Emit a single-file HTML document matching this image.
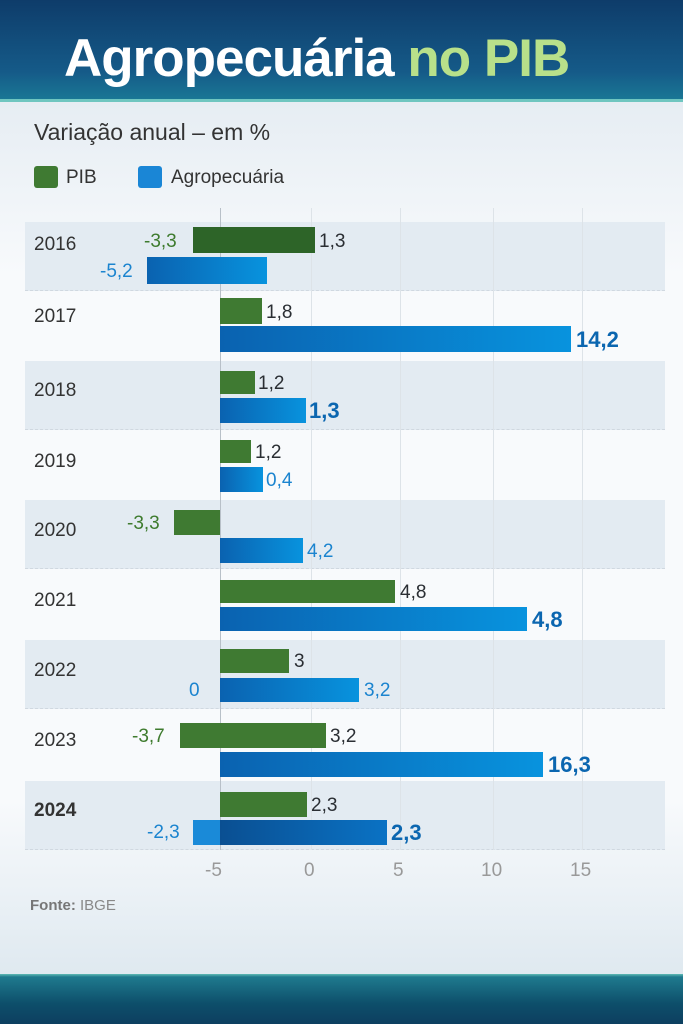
<!DOCTYPE html>
<html><head><meta charset="utf-8"><style>
*{margin:0;padding:0;box-sizing:border-box}
body{width:683px;height:1024px;overflow:hidden;font-family:"Liberation Sans","DejaVu Sans",sans-serif;background:#f2f6f9;position:relative}
.hdr{position:absolute;left:0;top:0;width:683px;height:102px;background:linear-gradient(180deg,#0e3c6a 0%,#155a88 70%,#1a7a96 100%)}
.hdr:after{content:"";position:absolute;left:0;right:0;bottom:0;height:3px;background:#6fc6c0}
.title{position:absolute;top:28px;left:64px;font-size:53px;font-weight:bold;color:#fff;letter-spacing:-1px;white-space:nowrap}
.title span{color:#b8e08a}
.main{position:absolute;left:0;top:102px;width:683px;height:872px;background:linear-gradient(180deg,#e6edf3 0%,#f8fafc 20%,#f8fafc 80%,#dfe9f0 100%)}
.ftr{position:absolute;left:0;top:974px;width:683px;height:50px;background:linear-gradient(180deg,#5fbab5 0,#1f7a8e 6%,#0d4e6a 60%,#0d3f60 100%)}
.t{position:absolute;white-space:nowrap;font-size:19px;line-height:1}
.band{position:absolute;left:25px;width:640px;height:69px;background:#e3ebf2;border-bottom:1px dashed #d0d8e0}
.grid{position:absolute;top:208px;height:642px;width:1px;background:#dde3e8}
.b{position:absolute}
.g{background:#3f7a32}
.gd{background:#2d6428}
.bl{background:linear-gradient(90deg,#0a62b0,#0893de)}
.yr{position:absolute;left:34px;font-size:19px;color:#333}
.gr{color:#3e7b2e}.dk{color:#2a2e33}.bu{color:#1b84cf}.bb{color:#0b66b0;font-weight:bold;font-size:22px}
</style></head><body>
<div class="hdr"><div class="title">Agropecuária <span>no PIB</span></div></div>
<div class="main"></div>
<div class="ftr"></div>
<div class="t" style="left:34px;top:121px;font-size:23px;color:#333">Variação anual – em %</div>
<div class="b g" style="left:34px;top:166px;width:24px;height:22px;border-radius:3px"></div>
<div class="t" style="left:66px;top:168px;font-size:19px;color:#333">PIB</div>
<div class="b" style="left:138px;top:166px;width:24px;height:22px;border-radius:3px;background:#1a86d6"></div>
<div class="t" style="left:171px;top:168px;font-size:19px;color:#333">Agropecuária</div>

<div class="band" style="top:222px"></div>
<div class="band" style="top:361px"></div>
<div class="band" style="top:500px"></div>
<div class="band" style="top:640px"></div>
<div class="band" style="top:781px"></div>
<div class="grid" style="left:220px;background:#b8c0c8"></div>
<div class="grid" style="left:311px"></div>
<div class="grid" style="left:400px"></div>
<div class="grid" style="left:493px"></div>
<div class="grid" style="left:582px"></div>

<div class="yr" style="top:234px">2016</div>
<div class="yr" style="top:306px">2017</div>
<div class="yr" style="top:380px">2018</div>
<div class="yr" style="top:451px">2019</div>
<div class="yr" style="top:520px">2020</div>
<div class="yr" style="top:590px">2021</div>
<div class="yr" style="top:660px">2022</div>
<div class="yr" style="top:730px">2023</div>
<div class="yr" style="top:800px;font-weight:bold">2024</div>

<div class="b gd" style="left:193px;top:227px;width:122px;height:26px"></div>
<div class="t gr" style="left:144px;top:232px">-3,3</div><div class="t dk" style="left:319px;top:232px">1,3</div>
<div class="b bl" style="left:147px;top:257px;width:120px;height:27px"></div>
<div class="t bu" style="left:100px;top:262px">-5,2</div>

<div class="b g" style="left:220px;top:298px;width:42px;height:26px"></div>
<div class="t dk" style="left:266px;top:303px">1,8</div>
<div class="b bl" style="left:220px;top:326px;width:351px;height:26px"></div>
<div class="t bb" style="left:576px;top:329px">14,2</div>

<div class="b g" style="left:220px;top:371px;width:35px;height:23px"></div>
<div class="t dk" style="left:258px;top:374px">1,2</div>
<div class="b bl" style="left:220px;top:398px;width:86px;height:25px"></div>
<div class="t bb" style="left:309px;top:400px">1,3</div>

<div class="b g" style="left:220px;top:440px;width:31px;height:23px"></div>
<div class="t dk" style="left:255px;top:443px">1,2</div>
<div class="b bl" style="left:220px;top:467px;width:43px;height:25px"></div>
<div class="t bu" style="left:266px;top:471px">0,4</div>

<div class="b g" style="left:174px;top:510px;width:46px;height:25px"></div>
<div class="t gr" style="left:127px;top:514px">-3,3</div>
<div class="b bl" style="left:220px;top:538px;width:83px;height:25px"></div>
<div class="t bu" style="left:307px;top:542px">4,2</div>

<div class="b g" style="left:220px;top:580px;width:175px;height:23px"></div>
<div class="t dk" style="left:400px;top:583px">4,8</div>
<div class="b bl" style="left:220px;top:607px;width:307px;height:24px"></div>
<div class="t bb" style="left:532px;top:609px">4,8</div>

<div class="b g" style="left:220px;top:649px;width:69px;height:24px"></div>
<div class="t dk" style="left:294px;top:652px">3</div>
<div class="b bl" style="left:220px;top:678px;width:139px;height:24px"></div>
<div class="t bu" style="left:189px;top:681px">0</div><div class="t bu" style="left:364px;top:681px">3,2</div>

<div class="b g" style="left:180px;top:723px;width:146px;height:25px"></div>
<div class="t gr" style="left:132px;top:727px">-3,7</div><div class="t dk" style="left:330px;top:727px">3,2</div>
<div class="b bl" style="left:220px;top:752px;width:323px;height:25px"></div>
<div class="t bb" style="left:548px;top:754px">16,3</div>

<div class="b g" style="left:220px;top:792px;width:87px;height:25px"></div>
<div class="t dk" style="left:311px;top:796px">2,3</div>
<div class="b" style="left:193px;top:820px;width:27px;height:25px;background:#1a8ad8"></div>
<div class="b bl" style="left:220px;top:820px;width:167px;height:25px;background:linear-gradient(90deg,#0a4f92,#0a72c4)"></div>
<div class="t bu" style="left:147px;top:823px">-2,3</div>
<div class="t bb" style="left:391px;top:822px">2,3</div>

<div class="t" style="left:205px;top:861px;color:#999;font-size:19px">-5</div>
<div class="t" style="left:304px;top:861px;color:#999;font-size:19px">0</div>
<div class="t" style="left:393px;top:861px;color:#999;font-size:19px">5</div>
<div class="t" style="left:481px;top:861px;color:#999;font-size:19px">10</div>
<div class="t" style="left:570px;top:861px;color:#999;font-size:19px">15</div>
<div class="t" style="left:30px;top:898px;color:#888;font-size:15px"><b style="color:#777">Fonte:</b> IBGE</div>
</body></html>
